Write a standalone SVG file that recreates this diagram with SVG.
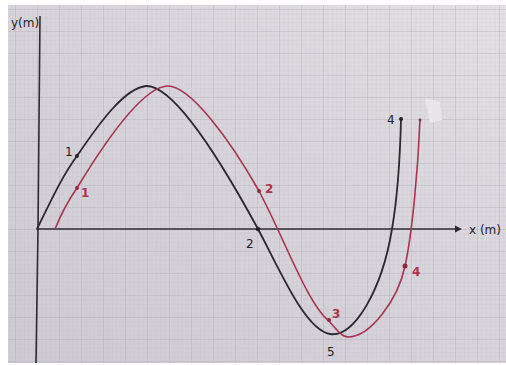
<svg xmlns="http://www.w3.org/2000/svg" width="506" height="365" viewBox="0 0 506 365">
  <style>
    .axis { stroke: #2e2c33; stroke-width: 1.6; fill: none; }
    .blk { stroke: #2a2a2e; stroke-width: 1.8; fill: none; stroke-linecap: round; }
    .red { stroke: #a8344e; stroke-width: 1.6; fill: none; stroke-linecap: round; }
    .tb { font-family: "DejaVu Sans", sans-serif; font-size: 12px; fill: #222226; }
    .tr { font-family: "DejaVu Sans", sans-serif; font-size: 12px; fill: #b2304c; font-weight: bold; }
    .db { fill: #222226; }
    .dr { fill: #8e2a40; }
  </style>
  <defs>
    <linearGradient id="bg" x1="0" y1="1" x2="1" y2="0">
      <stop offset="0" stop-color="#cdcad3"/>
      <stop offset="0.6" stop-color="#d8d5dc"/>
      <stop offset="1" stop-color="#e3e1e6"/>
    </linearGradient>
    <pattern id="minor" width="4.4" height="4.4" patternUnits="userSpaceOnUse" x="37" y="229">
      <path d="M0,0 H4.4 M0,0 V4.4" stroke="#bdb9c2" stroke-width="0.5" opacity="0.6"/>
    </pattern>
    <pattern id="major" width="22" height="22" patternUnits="userSpaceOnUse" x="37" y="229">
      <path d="M0,0 H22 M0,0 V22" stroke="#aeaab4" stroke-width="0.9" opacity="0.7"/>
    </pattern>
  </defs>
  <rect width="506" height="365" fill="#ffffff"/>
  <g id="paper">
    <rect x="8" y="5" width="498" height="358" fill="url(#bg)"/>
    <rect x="8" y="5" width="498" height="358" fill="url(#minor)"/>
    <rect x="8" y="5" width="498" height="358" fill="url(#major)"/>
    <path d="M425,98 L440,102 L442,120 L430,123 Z" fill="#ece6ec" opacity="0.9"/>
  </g>
  <g id="axes">
    <path class="axis" d="M40,16 L38,229 L36,363"/>
    <path class="axis" d="M37,229 L458,229"/>
    <path d="M455,225.5 L462,229 L455,232.5 Z" fill="#2e2c33"/>
    <text class="tb" x="11" y="27" font-size="12">y(m)</text>
    <text class="tb" x="469" y="234">x (m)</text>
  </g>
  <g id="curve-black">
    <path class="blk" d="M37,229 C55,192 65,172 77,156 C100,122 125,88 146,86 C172,85 215,150 258,229 C280,270 305,330 330,334 C354,338 382,290 392,229 C397,200 400,160 401,119"/>
    <circle class="db" cx="77" cy="156" r="2"/>
    <circle class="db" cx="258" cy="229" r="2.2"/>
    <circle class="db" cx="401" cy="119" r="2"/>
    <text class="tb" x="65" y="156">1</text>
    <text class="tb" x="246" y="248">2</text>
    <text class="tb" x="327" y="356">5</text>
    <text class="tb" x="387" y="124">4</text>
  </g>
  <g id="curve-red">
    <path class="red" d="M55,229 C62,212 70,198 77,188 C100,150 140,88 167,86 C190,85 230,140 259,191 C285,240 308,305 329,321 C337,330 342,337 348,337 C370,337 398,300 405,266 C412,235 418,170 420,120"/>
    <circle class="dr" cx="77" cy="188" r="2"/>
    <circle class="dr" cx="259" cy="191" r="2"/>
    <circle class="dr" cx="329" cy="320" r="2"/>
    <circle class="dr" cx="405" cy="266" r="2.5"/>
    <circle class="dr" cx="420" cy="120" r="1.4"/>
    <text class="tr" x="81" y="197">1</text>
    <text class="tr" x="265" y="193">2</text>
    <text class="tr" x="332" y="318">3</text>
    <text class="tr" x="412" y="276">4</text>
  </g>
</svg>
